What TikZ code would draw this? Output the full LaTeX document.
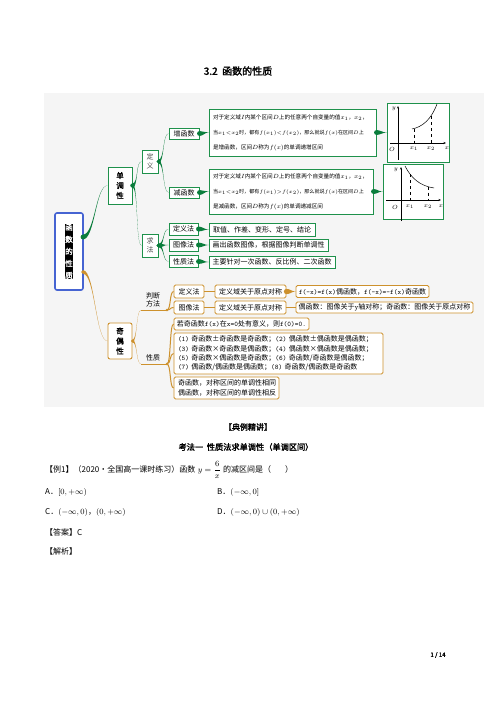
\documentclass[tikz,border=0pt]{standalone}
\usepackage{amsmath,amssymb}
\usepackage{fontspec}
\setmainfont{Noto Sans CJK SC}[BoldFont={Noto Sans CJK SC}, BoldFeatures={FakeBold=2}]
\usetikzlibrary{arrows.meta,positioning,calc}
\definecolor{mGreen}{RGB}{30,145,75}
\definecolor{mLeaf}{RGB}{10,125,60}
\definecolor{mOrange}{RGB}{205,145,45}
\definecolor{mBlue}{RGB}{70,100,210}
% tapered mind-map branch: [pull]{colour}{from}{to}{half width}
\newcommand{\branch}[5][6]{%
  \fill[#2] ($(#3)+(0,#5)$) .. controls +(#1,0) and +(-#1,0) .. (#4)
    .. controls +(-#1,0) and +(#1,0) .. ($(#3)-(0,#5)$) -- cycle;
  \fill[#2] (#3) circle[radius=#5];}
\newcommand{\tight}{\fontsize{5.05}{15}\selectfont}

\begin{document}
\begin{tikzpicture}[x=1pt, y=-1pt,
    gbox/.style={draw=mGreen, line width=0.9pt, fill=white, inner sep=0pt, align=center, font=\fontsize{7}{9}\selectfont},
    tbox/.style={gbox, align=left, inner xsep=4pt, font=\fontsize{5.6}{15}\selectfont},
    obox/.style={draw=mOrange, line width=0.9pt, rounded corners=1.5pt, fill=white, inner sep=0pt, font=\fontsize{7}{9.3}\selectfont},
    oline/.style={mOrange, line width=1pt},
    axis/.style={line width=0.4pt, -{Stealth[length=2.5pt,width=2pt]}},
    lbl/.style={font=\fontsize{6}{7}\selectfont, inner sep=0.5pt},
    body/.style={font=\fontsize{8}{10}\selectfont, inner sep=0pt, anchor=west}]
  \useasboundingbox (0,0) rectangle (496,702);
  \fill[black!4] (44,93) rectangle (484,407);
  \node[font=\fontsize{10}{12}\selectfont\bfseries] (title) at (238,71) {3.2\ \ 函数的性质};

  % root
  \node[draw=mBlue, line width=1.6pt, rounded corners=2pt, fill=white, minimum width=28pt, minimum height=77pt] (root) at (69,251.5) {};
  \node[fill=black, text=white, inner sep=0.6pt, align=center, font=\fontsize{7.5}{12}\selectfont\bfseries] (rootlbl) at (root.center) {函\\数\\的\\性\\质};
  \coordinate (rootup) at (83,237);
  \coordinate (rootdn) at (83,272);

  % monotonicity
  \node[gbox, minimum width=24pt, minimum height=37pt, font=\fontsize{7.5}{10}\selectfont\bfseries] (dd) at (120,185.5) {单\\调\\性};
  \node[gbox, minimum width=16pt, minimum height=23pt, text=black!70] (dy) at (150,161.5) {定\\义};
  \node[gbox, minimum width=16pt, minimum height=23pt, text=black!70] (qf) at (150,245.5) {求\\法};
  \node[gbox, minimum width=30pt, minimum height=11pt] (zeng) at (184,133.5) {增函数};
  \node[gbox, minimum width=30pt, minimum height=11pt] (jian) at (184,192.5) {减函数};
  \node[tbox, text width=159pt, minimum height=47pt] (zdef) at (292.5,132.5) {对于定义域$I$内某个区间$D$上的任意两个自变量的值$x_1$，$x_2$，\\{\tight 当$x_1{<}x_2$时，都有$f(x_1){<}f(x_2)$，那么就说$f(x)$在区间$D$上}\\是增函数，区间$D$称为$f(x)$的单调递增区间};
  \node[tbox, text width=156pt, minimum height=45pt] (jdef) at (291,191.5) {对于定义域$I$内某个区间$D$上的任意两个自变量的值$x_1$，$x_2$，\\{\tight 当$x_1{<}x_2$时，都有$f(x_1){>}f(x_2)$，那么就说$f(x)$在区间$D$上}\\是减函数，区间$D$称为$f(x)$的单调递减区间};
  \node[gbox, minimum width=62pt, minimum height=59pt] (zpic) at (418,132.5) {};
  \node[gbox, minimum width=60pt, minimum height=55pt] (jpic) at (413,191.5) {};
  \node[gbox, minimum width=29pt, minimum height=12pt] (dyf) at (183.5,229) {定义法};
  \node[gbox, minimum width=29pt, minimum height=12pt] (txf) at (183.5,245) {图像法};
  \node[gbox, minimum width=29pt, minimum height=12pt] (xzf) at (183.5,261.5) {性质法};
  \node[gbox, minimum width=106pt, minimum height=13pt] (dyfs) at (262,229.5) {取值、作差、变形、定号、结论};
  \node[gbox, minimum width=119pt, minimum height=12pt] (txfs) at (268.5,245) {画出函数图像，根据图像判断单调性};
  \node[gbox, minimum width=126pt, minimum height=12pt] (xzfs) at (272,262) {主要针对一次函数、反比例、二次函数};

  % small graphs
  \draw[axis] (390,143) -- (446,143);
  \draw[axis] (398,160) -- (398,106);
  \draw[line width=0.5pt] (412,129) .. controls (422,127) and (431,120) .. (437,104);
  \draw[dashed, line width=0.4pt] (414,128.6) -- (414,143) (431,116) -- (431,143);
  \node[lbl] at (394,109) {$y$};
  \node[lbl] at (447,148) {$x$};
  \node[lbl] at (392,149) {$O$};
  \node[lbl] at (414,149) {$x_1$};
  \node[lbl] at (431,149) {$x_2$};
  \draw[axis] (386,200) -- (441,200);
  \draw[axis] (401,221) -- (401,167);
  \draw[line width=0.5pt] (405,166) .. controls (411,178) and (420,186) .. (434,188);
  \draw[dashed, line width=0.4pt] (410,174.2) -- (410,200) (428,186.7) -- (428,200);
  \node[lbl] at (396,170) {$y$};
  \node[lbl] at (441,206) {$x$};
  \node[lbl] at (395,207) {$O$};
  \node[lbl] at (410,207) {$x_1$};
  \node[lbl] at (428,207) {$x_2$};

  % green branches
  \branch[12]{mLeaf}{rootup}{dd.west}{2.4}
  \branch{mLeaf}{dd.east}{dy.west}{2}
  \branch{mLeaf}{dd.east}{qf.west}{2}
  \branch{mLeaf}{dy.east}{zeng.west}{1.8}
  \branch{mLeaf}{dy.east}{jian.west}{1.8}
  \branch{mLeaf}{qf.east}{dyf.west}{1.8}
  \branch{mLeaf}{qf.east}{txf.west}{1.8}
  \branch{mLeaf}{qf.east}{xzf.west}{1.8}
  \branch[4]{mLeaf}{zeng.east}{zdef.west}{2.4}
  \branch[4]{mLeaf}{jian.east}{jdef.west}{2.4}
  \branch[4]{mLeaf}{zdef.east}{zpic.west}{2.4}
  \branch[4]{mLeaf}{jdef.east}{jpic.west}{2.4}
  \branch[4]{mLeaf}{dyf.east}{dyfs.west}{2.4}
  \branch[4]{mLeaf}{txf.east}{txfs.west}{2.4}
  \branch[4]{mLeaf}{xzf.east}{xzfs.west}{2.4}

  % parity
  \node[gbox, draw=mOrange, rounded corners=2pt, minimum width=24pt, minimum height=36pt, font=\fontsize{7.5}{10}\selectfont\bfseries] (jo) at (120,341) {奇\\偶\\性};
  \node[font=\fontsize{7}{8.5}\selectfont, align=center, inner sep=0pt] (pd) at (153,300) {判断\\方法};
  \node[font=\fontsize{7}{8.5}\selectfont, inner sep=0pt] (xz) at (153,358) {性质};
  \coordinate (pdl) at (141,310);
  \coordinate (pdr) at (167,310);
  \coordinate (xzl) at (141,364);
  \coordinate (xzr) at (167,364);
  \node[obox, minimum width=30pt, minimum height=13pt] (o1) at (189,291.5) {定义法};
  \node[obox, minimum width=30pt, minimum height=13pt] (o2) at (189,307.5) {图像法};
  \node[obox, minimum width=71pt, minimum height=13pt] (o3) at (250.5,291.5) {定义域关于原点对称};
  \node[obox, minimum width=71pt, minimum height=13pt] (o4) at (250.5,307.5) {定义域关于原点对称};
  \node[obox, minimum width=133pt, minimum height=12pt] (o5) at (362.5,291.5) {{\ttfamily f(-x)=f(x)}偶函数，{\ttfamily f(-x)=-f(x)}奇函数};
  \node[obox, minimum width=177pt, minimum height=11pt] (o6) at (384.5,307.5) {偶函数：图像关于{\ttfamily y}轴对称；奇函数：图像关于原点对称};
  \node[obox, minimum width=135pt, minimum height=12pt] (o7) at (241.5,324) {若奇函数{\ttfamily f(x)}在{\ttfamily x=0}处有意义，则{\ttfamily f(0)=0.}};
  \node[obox, text width=201pt, inner xsep=4pt, align=left, minimum height=41pt] (o8) at (278.5,353.5) {{\ttfamily(1)} 奇函数±奇函数是奇函数；{\ttfamily(2)} 偶函数±偶函数是偶函数；\\{\ttfamily(3)} 奇函数×奇函数是偶函数；{\ttfamily(4)} 偶函数×偶函数是偶函数；\\{\ttfamily(5)} 奇函数×偶函数是奇函数；{\ttfamily(6)} 奇函数/奇函数是偶函数；\\{\ttfamily(7)} 偶函数/偶函数是偶函数；{\ttfamily(8)} 奇函数/偶函数是奇函数};
  \node[obox, text width=97pt, inner xsep=4pt, align=left, minimum height=22pt, font=\fontsize{7}{10}\selectfont] (o9) at (226.5,388) {奇函数，对称区间的单调性相同\\偶函数，对称区间的单调性相反};

  % orange branches
  \branch[12]{mOrange}{rootdn}{jo.west}{1.8}
  \branch[5]{mOrange}{jo.east}{pdl}{1.3}
  \branch[5]{mOrange}{jo.east}{xzl}{1.3}
  \draw[oline] (pdl) -- (pdr);
  \draw[oline] (xzl) -- (xzr);
  \draw[oline] (pdr) .. controls +(4,0) and +(-4,0) .. (o1.west);
  \draw[oline] (pdr) .. controls +(4,0) and +(-4,0) .. (o2.west);
  \draw[oline] (xzr) .. controls +(4,0) and +(-4,0) .. (o7.west);
  \draw[oline] (xzr) .. controls +(4,0) and +(-4,0) .. (o8.west);
  \draw[oline] (xzr) .. controls +(4,0) and +(-4,0) .. (o9.west);
  \fill[mOrange] (pdr) circle[radius=1.3] (xzr) circle[radius=1.3];
  \draw[oline] (o1) -- (o3);
  \draw[oline] (o2) -- (o4);
  \branch[4]{mOrange}{o3.east}{o5.west}{2.6}
  \draw[oline] (o4) -- (o6);

  % text below the map
  \node[font=\fontsize{8}{10}\selectfont\bfseries] (jljj) at (248,427) {【典例精讲】};
  \node[font=\fontsize{8.2}{10}\selectfont\bfseries] (kf) at (246,447) {考法一\ \ 性质法求单调性（单调区间）};
  \node[body] (ex) at (45,470) {【例1】（2020·全国高一课时练习）函数$\;y=\dfrac{6}{x}\;$的减区间是（\hspace{14pt}）};
  \node[body] (ca) at (45,492) {A．$[0,+\infty)$};
  \node[body] (cb) at (217,492) {B．$(-\infty,0]$};
  \node[body] (cc) at (45,512) {C．$(-\infty,0)$，$(0,+\infty)$};
  \node[body] (cd) at (217,512) {D．$(-\infty,0)\cup(0,+\infty)$};
  \node[body] (da) at (45,532) {【答案】C};
  \node[body] (jx) at (45,551) {【解析】};
  \node[font=\fontsize{6}{7}\selectfont\bfseries] (pg) at (438,655) {1 / 14};
\end{tikzpicture}
\end{document}
